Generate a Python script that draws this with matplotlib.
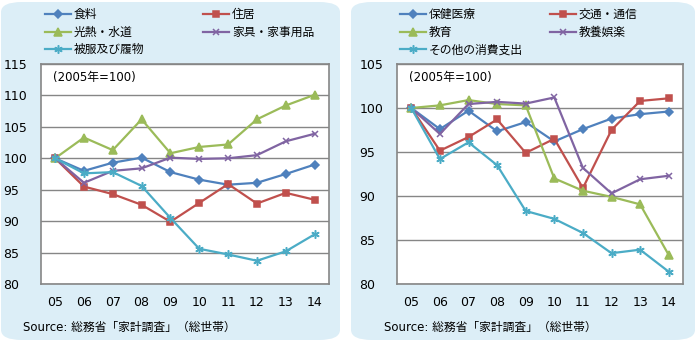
import numpy as np
import matplotlib.pyplot as plt
from matplotlib.patches import FancyBboxPatch

plt.rcParams['font.family'] = ['DejaVu Sans', 'Noto Sans CJK JP']

years = ['05', '06', '07', '08', '09', '10', '11', '12', '13', '14']

left_names = ['食料', '住居', '光熱・水道', '家具・家事用品', '被服及び履物']
food = [100, 98.0, 99.3, 100.1, 97.8, 96.6, 95.8, 96.1, 97.5, 99.0]
housing = [100, 95.5, 94.3, 92.6, 89.9, 92.9, 95.9, 92.8, 94.5, 93.4]
utilities = [100, 103.3, 101.3, 106.2, 100.8, 101.8, 102.2, 106.2, 108.4, 110.1]
furniture = [100, 96.1, 98.0, 98.4, 100.1, 99.9, 100.0, 100.5, 102.7, 103.9]
clothing = [100, 97.6, 97.8, 95.6, 90.5, 85.6, 84.7, 83.7, 85.2, 87.9]

right_names = ['保健医療', '交通・通信', '教育', '教養娯楽', 'その他の消費支出']
medical = [100, 97.6, 99.7, 97.35, 98.4, 96.2, 97.6, 98.8, 99.3, 99.6]
transport = [100, 95.15, 96.7, 98.7, 94.9, 96.5, 90.9, 97.5, 100.8, 101.1]
education = [100, 100.3, 100.9, 100.45, 100.3, 92.0, 90.6, 89.9, 89.05, 83.3]
culture = [100, 97.05, 100.45, 100.7, 100.5, 101.2, 93.2, 90.3, 91.9, 92.3]
other = [100, 94.2, 96.1, 93.5, 88.3, 87.4, 85.8, 83.5, 83.9, 81.4]

colors = ['#4F81BD', '#C0504D', '#9BBB59', '#8064A2', '#4BACC6']
markers = ['D', 's', '^', 'x', (6, 2, 0)]
msizes = [4.2, 4.8, 5.2, 5, 6]

W, H = 696, 342
fig = plt.figure(figsize=(W / 100, H / 100), dpi=100)
fig.patch.set_facecolor('white')

# rounded light-blue panels
for x0, x1 in [(1, 340), (351, 695)]:
    fig.patches.append(FancyBboxPatch(
        (x0 / W, 2 / H), (x1 - x0) / W, (H - 4) / H,
        boxstyle='round,pad=0,rounding_size=0.03',
        transform=fig.transFigure, facecolor='#DCEEF7', edgecolor='none',
        zorder=-5))


def panel(rect, series, names, ylim, col_x, source_x):
    ax = fig.add_axes(rect)
    ax.set_zorder(2)
    ax.set_facecolor('white')
    x = np.arange(len(years))
    lines = []
    for vals, c, m, ms in zip(series, colors, markers, msizes):
        ln, = ax.plot(x, vals, color=c, lw=1.6, marker=m, ms=ms,
                      mec=c, mfc=c, mew=1.1, clip_on=False)
        lines.append(ln)
    ax.set_xlim(-0.5, len(years) - 0.5)
    ax.set_ylim(*ylim)
    ax.set_yticks(np.arange(ylim[0], ylim[1] + 1, 5))
    ax.set_xticks(x)
    ax.set_xticklabels(years)
    ax.tick_params(axis='x', length=0, labelsize=9, pad=9)
    ax.tick_params(axis='y', length=0, labelsize=9, pad=27)
    for lab in ax.get_yticklabels():
        lab.set_horizontalalignment('left')
    ax.grid(axis='y', color='#868686', lw=1)
    ax.set_axisbelow(True)
    for s in ax.spines.values():
        s.set_color('#868686')
        s.set_linewidth(1.2)
    ax.text(0.043, 0.94, '(2005年=100)', transform=ax.transAxes,
            fontsize=8.5, va='center', ha='left')
    for idx, cx in zip([[0, 2, 4], [1, 3]], col_x):
        leg = fig.legend([lines[i] for i in idx], [names[i] for i in idx],
                         loc='upper left', bbox_to_anchor=(cx / W, 1 - 8 / H),
                         frameon=False, fontsize=8.5, handlelength=2.2,
                         labelspacing=0.4, handletextpad=0.25,
                         borderaxespad=0, borderpad=0)
        leg.set_zorder(3)
    fig.text(source_x / W, 1 - 327 / H, 'Source: 総務省「家計調査」（総世帯）',
             fontsize=8.5, va='center', ha='left')
    return ax


panel([40.7 / W, (H - 284) / H, (329 - 40.7) / W, (284 - 64) / H],
      [food, housing, utilities, furniture, clothing], left_names,
      (80, 115), (45, 203), 23)
panel([397 / W, (H - 284) / H, (683 - 397) / W, (284 - 64) / H],
      [medical, transport, education, culture, other], right_names,
      (80, 105), (400, 550), 384)

fig.savefig('out.png', dpi=100)
